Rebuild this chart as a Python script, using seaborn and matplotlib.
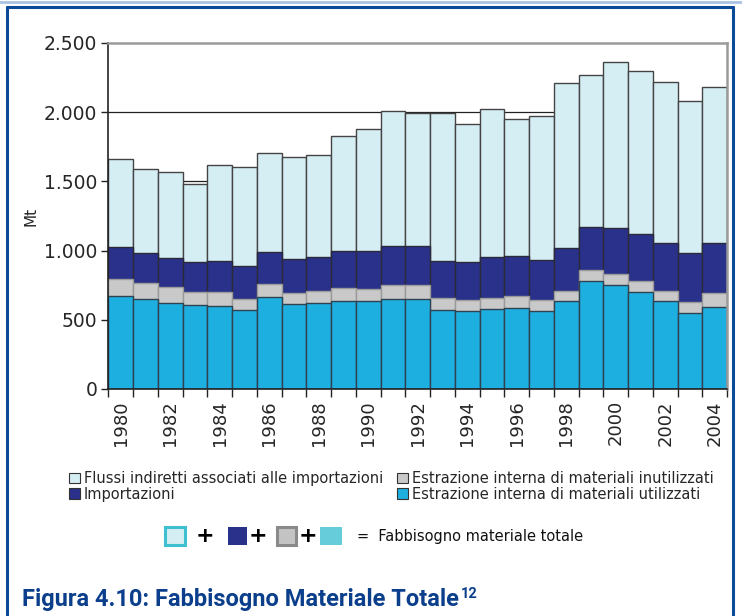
import numpy as np
import matplotlib.pyplot as plt
import seaborn as sns
from matplotlib.patches import Rectangle
from matplotlib.lines import Line2D

# Fabbisogno materiale totale, Mt
years = [str(y) for y in range(1980, 2005)]
estr_utilizzati = [672, 653, 624, 605, 600, 571, 665, 612, 619, 638, 634, 648, 650,
                   573, 561, 580, 583, 564, 636, 780, 751, 699, 634, 547, 595]
estr_inutilizzati = [120, 115, 111, 98, 101, 82, 91, 82, 89, 92, 91, 103, 104,
                     87, 82, 77, 89, 77, 75, 77, 80, 81, 74, 82, 96]
importazioni = [236, 217, 214, 212, 224, 236, 236, 248, 243, 267, 272, 282, 277,
                265, 275, 294, 287, 293, 310, 314, 332, 338, 345, 351, 364]
flussi_indiretti = [632, 602, 621, 566, 691, 717, 711, 732, 742, 829, 884, 978, 961,
                    1072, 997, 1070, 990, 1036, 1188, 1098, 1197, 1177, 1163, 1099, 1129]

labels = ["Flussi indiretti associati alle importazioni", "Importazioni",
          "Estrazione interna di materiali inutilizzati",
          "Estrazione interna di materiali utilizzati"]
y_ticks = [0, 500, 1000, 1500, 2000, 2500]

c_light, c_navy, c_gray, c_blue = "#D5EEF4", "#2A318A", "#C9C9C9", "#1EAFE1"
c_frame = "#0A4A97"

sns.set_theme(style="white")
plt.rcParams['font.family'] = ['DejaVu Sans']

W, H = 742, 616
fig = plt.figure(figsize=(W / 100, H / 100), dpi=100)
ax = fig.add_axes([108.3 / W, 1 - 389 / H, (727 - 108.3) / W, 346 / H])

# cumulative tops, drawn from the total down so lower layers sit on top
s1 = np.array(estr_utilizzati)
s2 = s1 + np.array(estr_inutilizzati)
s3 = s2 + np.array(importazioni)
s4 = s3 + np.array(flussi_indiretti)

layers = [(s4, c_light, "#444444"), (s3, c_navy, "#2A2A3A"),
          (s2, c_gray, "#9A9A9A"), (s1, c_blue, "#2E4250")]
for vals, col, ec in layers:
    sns.barplot(x=years, y=vals, color=col, saturation=1, width=1.0,
                edgecolor=ec, linewidth=1.0, errorbar=None, ax=ax, zorder=2)

# horizontal gridlines behind the bars
ax.hlines(y_ticks[1:-1], -0.5, len(years) - 0.5, color="#222222", lw=0.9, zorder=0.5)

ax.set_xlim(-0.5, len(years) - 0.5)
ax.set_ylim(0, 2500)
ax.set_yticks(y_ticks)
ax.set_yticklabels([f"{v:,}".replace(",", ".") for v in y_ticks], fontsize=13.5)
ax.set_ylabel("Mt", fontsize=11, labelpad=4)

# category ticks between bars, labels every other year
ax.set_xticks(np.arange(-0.5, len(years), 1.0))
ax.set_xticklabels([])
lab_pos = [i for i in range(len(years)) if i % 2 == 0]
ax.set_xticks(lab_pos, minor=True)
ax.set_xticklabels([years[i] for i in lab_pos], minor=True, rotation=90, fontsize=13)
ax.set_xlabel("")
ax.tick_params(axis="x", which="major", direction="out", length=6, width=1,
               color="#222222", bottom=True)
ax.tick_params(axis="x", which="minor", length=0, pad=8, bottom=True)
ax.tick_params(axis="y", direction="out", length=5, width=1, color="#222222",
               left=True, pad=3)

for side in ["left", "bottom"]:
    ax.spines[side].set_color("#222222")
    ax.spines[side].set_linewidth(1.2)
for side in ["top", "right"]:
    ax.spines[side].set_color("#9A9A9A")
    ax.spines[side].set_linewidth(1.8)

# legend under the chart
handles = [Rectangle((0, 0), 1, 1, facecolor=c, edgecolor="#333333", lw=0.8)
           for c in [c_light, c_navy, c_gray, c_blue]]
fig.legend(handles, labels, ncol=2, loc="upper left",
           bbox_to_anchor=(69 / W, 1 - 471 / H), frameon=False, fontsize=10.5,
           handlelength=0.75, handleheight=0.75, handletextpad=0.25,
           columnspacing=1.0, labelspacing=0.05, borderaxespad=0, borderpad=0)

# formula row
def fx(px):
    return px / W

def fy(py):
    return 1 - py / H

ry0, ry1 = 545, 527
fig.add_artist(Rectangle((fx(165), fy(ry0)), fx(20), (ry0 - ry1) / H,
                         facecolor=c_light, edgecolor="#3FC0D0", lw=2.2,
                         transform=fig.transFigure))
fig.add_artist(Rectangle((fx(228), fy(ry0)), fx(19), (ry0 - ry1) / H,
                         facecolor=c_navy, edgecolor=c_navy, lw=0,
                         transform=fig.transFigure))
fig.add_artist(Rectangle((fx(277), fy(ry0)), fx(19), (ry0 - ry1) / H,
                         facecolor="#C4C4C4", edgecolor="#8A8A8A", lw=2.2,
                         transform=fig.transFigure))
fig.add_artist(Rectangle((fx(320), fy(ry0)), fx(22), (ry0 - ry1) / H,
                         facecolor="#66CCD9", edgecolor="#66CCD9", lw=0,
                         transform=fig.transFigure))
for px in [205, 258, 308]:
    fig.text(fx(px), fy(536), "+", fontsize=16, fontweight="bold",
             ha="center", va="center", color="black")
fig.text(fx(357), fy(536), "=  Fabbisogno materiale totale", fontsize=10.5,
         ha="left", va="center", color="#111111")

# outer frame
for xs, ys in [([7, 7], [7, H + 5]), ([733, 733], [7, H + 5]), ([7, 733], [7, 7])]:
    fig.add_artist(Line2D([fx(x) for x in xs], [fy(y) for y in ys], color=c_frame,
                          lw=2.2, transform=fig.transFigure))
fig.add_artist(Line2D([0, 1], [fy(1.5), fy(1.5)], color="#A9C3E3", lw=2,
                      transform=fig.transFigure))

# caption
title = fig.text(fx(22), fy(606), "Figura 4.10: Fabbisogno Materiale Totale",
                 fontsize=17, fontweight="bold", color="#0B3F8C", ha="left",
                 va="baseline", family=["Roboto", "DejaVu Sans"])
fig.canvas.draw()
bb = title.get_window_extent(fig.canvas.get_renderer())
fig.text(bb.x1 / W + 0.002, bb.y1 / H - 0.016, "12", fontsize=10.5,
         fontweight="bold", color="#0B3F8C", ha="left", va="baseline",
         family=["Roboto", "DejaVu Sans"])

fig.savefig("out.png", dpi=100)
